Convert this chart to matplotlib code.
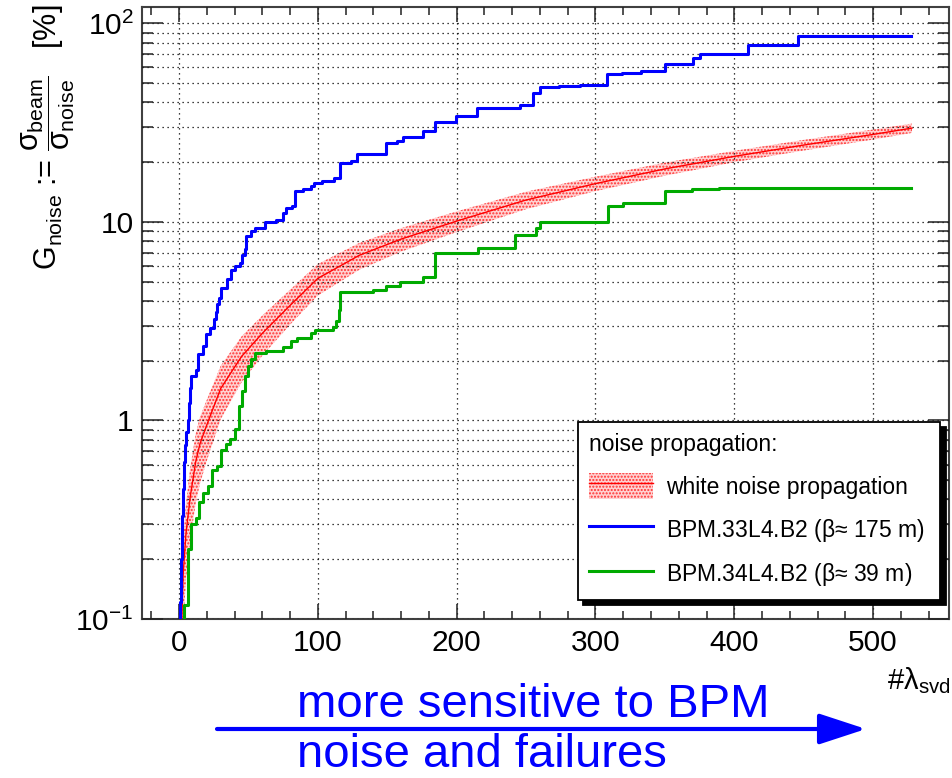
import numpy as np
import matplotlib
matplotlib.use('Agg')
import matplotlib.pyplot as plt
from matplotlib.ticker import FixedLocator, FixedFormatter, MultipleLocator, LogLocator, NullFormatter
from matplotlib.patches import Patch, FancyArrowPatch
from matplotlib.lines import Line2D

plt.rcParams['font.family'] = ['Liberation Sans', 'DejaVu Sans']
plt.rcParams['mathtext.fontset'] = 'custom'
plt.rcParams['mathtext.rm'] = 'Liberation Sans'
plt.rcParams['mathtext.it'] = 'Liberation Sans'
plt.rcParams['mathtext.bf'] = 'Liberation Sans:bold'
plt.rcParams['hatch.linewidth'] = 1.0

# BPM.33L4.B2 - cumulative step curve (x = #lambda where step happens, y after step)
blue_x = [0, 0.5, 1.2, 1.6, 2.0, 2.4, 3.0, 3.5, 4.5, 5.3, 6.5, 7.3, 8.0, 8.9, 12.5, 13.7,
          17.3, 19.7, 22, 25, 26.5, 27.4, 29, 30.5, 34.6, 37.7, 40, 43.7, 45, 47.4, 48,
          52, 54.5, 61.7, 70, 75, 77.4, 81.7, 83.4, 89, 95.4, 97, 103.3, 111.7, 115.8,
          124, 128, 149, 157, 161.4, 175.9, 184.2, 199.8, 214.7, 245.5, 255, 260, 274,
          289, 308, 319, 333, 350, 370, 375, 410, 446, 527.6]
blue_y = [0.09, 0.122, 0.148, 0.2, 0.253, 0.332, 0.45, 0.615, 0.75, 0.873, 1.0, 1.23, 1.45,
          1.68, 1.8, 2.16, 2.37, 2.72, 2.94, 3.23, 3.5, 3.85, 4.16, 4.65, 5.16, 5.75, 6.0,
          6.2, 6.8, 7.28, 8.47, 9.0, 9.33, 10.0, 10.2, 11.1, 11.8, 12.0, 14.3, 14.6, 15.2,
          15.8, 16.0, 16.6, 19.8, 20.3, 22.0, 25.1, 25.6, 26.9, 28.6, 31.7, 34.0, 37.6,
          38.9, 44.5, 48.0, 48.5, 49.0, 55.6, 56.5, 57.5, 62.4, 66.7, 70.1, 77.8, 86.4, 86.4]

# BPM.34L4.B2
green_x = [3, 3.3, 6.5, 8.9, 12.5, 14.2, 17.3, 20.9, 24, 27.4, 30.5, 34, 36.5, 40.1, 43,
           45, 47.3, 49.7, 52, 54.5, 62.9, 75, 81, 85, 95.4, 97.8, 111, 113.4, 115, 115.8,
           140, 149.4, 159, 175.8, 184.2, 215.4, 242, 257.5, 260, 309, 320, 350, 369.6,
           389, 527.6]
green_y = [0.09, 0.118, 0.226, 0.30, 0.324, 0.39, 0.43, 0.47, 0.56, 0.59, 0.71, 0.76, 0.81,
           0.91, 1.18, 1.41, 1.68, 1.89, 2.03, 2.19, 2.25, 2.35, 2.52, 2.6, 2.77, 2.86, 2.97,
           3.16, 3.62, 4.45, 4.55, 4.75, 4.98, 5.27, 6.98, 7.4, 8.63, 9.33, 9.96, 12.1, 12.4,
           14.4, 14.6, 14.8, 14.8]

# white noise propagation (centre and band)
white_x = [2, 3, 5, 8, 12, 15, 20, 30, 45, 60, 80, 100, 130, 160, 200, 250, 300, 350, 400,
           450, 500, 528]
white_y = [0.10, 0.17, 0.27, 0.41, 0.62, 0.76, 0.95, 1.45, 2.10, 2.75, 3.8, 5.2, 6.8, 8.2,
           10.1, 12.9, 15.6, 18.5, 21.4, 24.4, 27.6, 29.7]
white_lo = [0.05, 0.094, 0.157, 0.246, 0.384, 0.479, 0.627, 1.015, 1.554, 2.12, 3.04, 4.26,
            5.75, 7.09, 8.89, 11.6, 14.3, 17.1, 20.0, 22.9, 26.0, 28.1]
white_hi = [0.15, 0.247, 0.383, 0.574, 0.856, 1.04, 1.27, 1.885, 2.65, 3.38, 4.56, 6.14,
            7.85, 9.31, 11.3, 14.2, 16.9, 19.9, 22.8, 25.9, 29.2, 31.3]

ytick_vals = [0.1, 1, 10, 100]
ytick_labels = [r'$\mathregular{10^{-1}}$', '1', '10', r'$\mathregular{10^{2}}$']

W, H = 953, 778
fig = plt.figure(figsize=(W / 100, H / 100), dpi=100)
ax = fig.add_axes([142 / W, 1 - 619 / H, 807 / W, 612 / H])

red_band_fc = '#ffd2d2'
ax.fill_between(white_x, white_lo, white_hi, facecolor=red_band_fc, edgecolor='#ff3030',
                hatch='.....', lw=0, zorder=2)
ax.plot(white_x, white_y, color='red', lw=1.0, zorder=3)
ax.step(blue_x, blue_y, where='post', color='#0000ff', lw=2.2, zorder=4)
ax.step(green_x, green_y, where='post', color='#00aa00', lw=2.2, zorder=4)

ax.set_yscale('log')
ax.set_ylim(0.1, 121)
ax.set_xlim(-26.7, 554.7)

ax.yaxis.set_major_locator(FixedLocator(ytick_vals))
ax.yaxis.set_major_formatter(FixedFormatter(ytick_labels))
ax.yaxis.set_minor_locator(LogLocator(base=10, subs=np.arange(2, 10)))
ax.yaxis.set_minor_formatter(NullFormatter())
ax.xaxis.set_major_locator(MultipleLocator(100))
ax.xaxis.set_minor_locator(MultipleLocator(20))

ax.tick_params(which='both', direction='in', top=True, right=True, color='#222222',
               labelsize=21.5, width=1.1)
ax.tick_params(axis='x', which='major', length=11, pad=7)
ax.tick_params(axis='x', which='minor', length=6)
ax.tick_params(axis='y', which='major', length=15, pad=6)
ax.tick_params(axis='y', which='minor', length=8)

gkw = dict(color='black', lw=0.9, ls=(0, (1, 3)))
ax.grid(which='major', axis='x', **gkw)
ax.grid(which='both', axis='y', **gkw)
ax.set_axisbelow(False)
for s in ax.spines.values():
    s.set_linewidth(1.5)
    s.set_color('#404040')

# legend
h_white = (Patch(facecolor=red_band_fc, edgecolor='#ff3030', hatch='.....', lw=0),
           Line2D([], [], color='red', lw=1.0))
h_blue = Line2D([], [], color='#0000ff', lw=2.2)
h_green = Line2D([], [], color='#00aa00', lw=2.2)
leg = ax.legend([h_white, h_blue, h_green],
                ['white noise propagation', r'BPM.33L4.B2 ($\mathregular{\beta}$≈ 175 m)',
                 r'BPM.34L4.B2 ($\mathregular{\beta}$≈ 39 m)'],
                title='noise propagation:', title_fontsize=16.5, fontsize=16.5,
                loc='upper left', bbox_to_anchor=(0.540, 0.036, 0.449, 0.286),
                mode='expand', alignment='left', fancybox=False,
                shadow={'ox': 4, 'oy': -4, 'color': 'black', 'alpha': 1},
                framealpha=1, edgecolor='black', borderaxespad=0, handlelength=2.8,
                handleheight=1.4, handletextpad=0.55, labelspacing=0.72, borderpad=0.5)
leg.get_frame().set_linewidth(1.3)
leg.set_zorder(10)

# labels
fig.text(48 / W, 1 - 5 / H,
         r'$\mathregular{G_{noise}}$ := $\dfrac{\sigma_{\mathregular{beam}}}{\sigma_{\mathregular{noise}}}$   [%]',
         rotation=90, ha='center', va='top', fontsize=22)
fig.text(950 / W, 1 - 689 / H, r'#$\mathregular{\lambda_{svd}}$', ha='right', va='baseline',
         fontsize=21)

# annotation
fig.text(297 / W, 1 - 717 / H, 'more sensitive to BPM', color='#0000ff', fontsize=34,
         va='baseline', ha='left')
fig.text(297 / W, 1 - 767 / H, 'noise and failures', color='#0000ff', fontsize=34,
         va='baseline', ha='left')
arr = FancyArrowPatch((217 / W, 1 - 729 / H), (866 / W, 1 - 729 / H),
                      transform=fig.transFigure, arrowstyle='-|>,head_length=2.9,head_width=0.95',
                      mutation_scale=10, color='#0000ff', lw=3, shrinkA=0, shrinkB=0)
fig.add_artist(arr)

fig.savefig('out.png', dpi=100)
